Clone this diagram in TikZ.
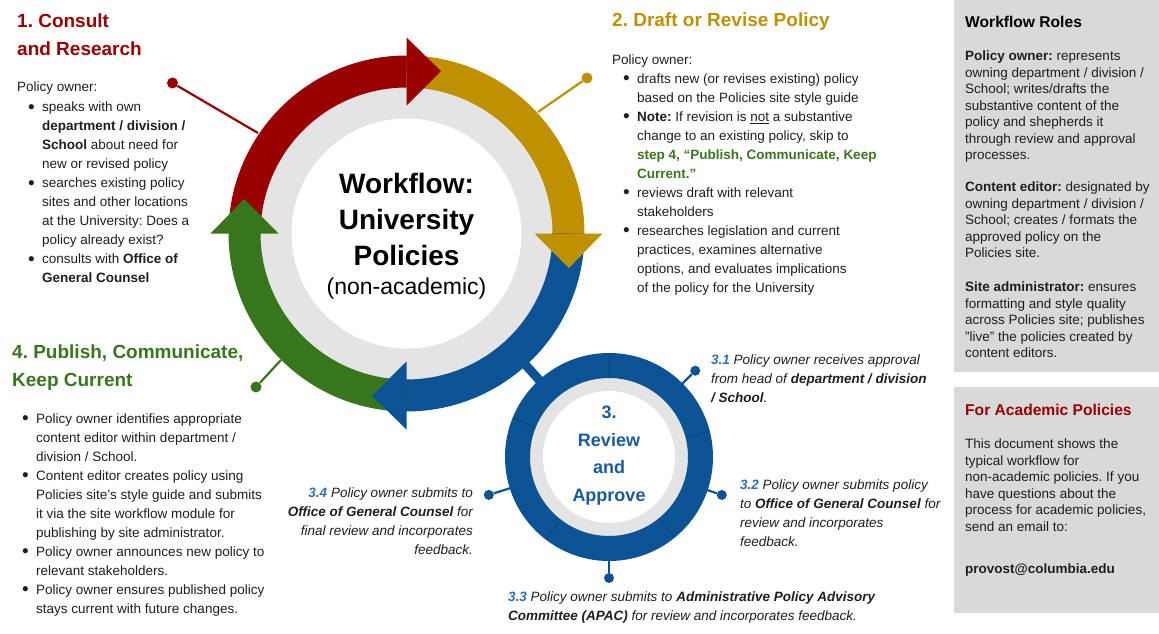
\documentclass[tikz,border=0pt]{standalone}
\usepackage{fontspec}
\setmainfont{Liberation Sans}
\usetikzlibrary{calc}
\frenchspacing
\definecolor{cred}{HTML}{990000}
\definecolor{cgold}{HTML}{BF9000}
\definecolor{cblue}{HTML}{0B5394}
\definecolor{cgreen}{HTML}{38761D}
\definecolor{ringgray}{HTML}{E4E4E4}
\definecolor{panelgray}{HTML}{D9D9D9}
\definecolor{txt}{HTML}{1E1E1E}
\definecolor{tblue}{HTML}{1A5A9E}
\definecolor{lblue}{HTML}{2E6DB4}
\definecolor{cdiv}{HTML}{08427A}
\newcommand{\bl}{\llap{\raisebox{-1.6pt}{\fontsize{19}{19}\selectfont\textbullet}\hspace{7.5pt}}}
\begin{document}
\begin{tikzpicture}[x=1pt,y=-1pt,
  body/.style={anchor=north west, inner sep=0pt, align=left, text=txt, font=\fontsize{13.5}{19}\selectfont},
  body1/.style={anchor=base west, inner sep=0pt, text=txt, font=\fontsize{13.5}{19}\selectfont},
  ital/.style={inner sep=0pt, text=txt, font=\fontsize{13.5}{19}\selectfont\itshape},
  panel/.style={anchor=north west, inner sep=0pt, align=left, text=txt, font=\fontsize{13.5}{16.5}\selectfont},
  ptitle/.style={anchor=base west, inner sep=0pt, text=black, font=\fontsize{15.6}{19}\selectfont\bfseries},
  head/.style={anchor=north west, inner sep=0pt, align=left, font=\fontsize{19}{28}\selectfont\bfseries},
  dot/.style={circle, fill=#1, inner sep=0pt, minimum size=11pt},
  sdot/.style={circle, fill=#1, inner sep=0pt, minimum size=10pt}
]
\useasboundingbox (0,0) rectangle (1159,634);

% ---------- right panels ----------
\fill[panelgray] (954,0) rectangle (1159,372);
\fill[panelgray] (954,387) rectangle (1159,613);

% ---------- centres ----------
\coordinate (C) at (406.5,233.5);
\coordinate (S) at (609,457);
\coordinate (barA) at ($(C)!172pt!(S)$);
\coordinate (barB) at ($(S)!98pt!(C)$);
\draw[cblue, line width=9pt] (barA) -- (barB);

% ---------- connectors of the big ring ----------
\node[dot=cred] (d1) at (172.5,83) {};
\coordinate (r1) at (258,133);
\draw[cred, line width=2.2pt] (d1) -- (r1);
\node[dot=cgold] (d2) at (587,78) {};
\coordinate (r2) at (538,112);
\draw[cgold, line width=2.2pt] (d2) -- (r2);
\node[dot=cgreen] (d4) at (256,387) {};
\coordinate (r4) at (281,360);
\draw[cgreen, line width=2.2pt] (d4) -- (r4);

% ---------- big ring ----------
\begin{scope}[shift={(C)}, yscale=-1]
  \fill[ringgray] (0,0) circle (150);
  \fill[white] (0,0) circle (115);
  \draw[cred,   line width=32pt] (180:162) arc (180:88:162);
  \draw[cgold,  line width=32pt] (90:162) arc (90:-2:162);
  \draw[cblue,  line width=32pt] (0:162) arc (0:-92:162);
  \draw[cgreen, line width=32pt] (-90:162) arc (-90:-182:162);
  \fill[cred]   (90:128) -- (90:196) -- (78:166) -- cycle;
  \fill[cgold]  (0:128) -- (0:196) -- (-12:166) -- cycle;
  \fill[cblue]  (-90:128) -- (-90:196) -- (-102:166) -- cycle;
  \fill[cgreen] (180:128) -- (180:196) -- (168:166) -- cycle;
\end{scope}

% ---------- small ring ----------
\begin{scope}[shift={(S)}, yscale=-1]
  \coordinate (r31) at (45:103);
  \coordinate (r32) at (-18.6:103);
  \coordinate (r33) at (-90:103);
  \coordinate (r34) at (197.5:103);
  \node[sdot=cblue] (d31) at (45:122) {};
  \node[sdot=cblue] (d32) at (-18.6:119) {};
  \node[sdot=cblue] (d33) at (-90:121) {};
  \node[sdot=cblue] (d34) at (197.5:126) {};
  \draw[cblue, line width=2.2pt] (r31) -- (d31);
  \draw[cblue, line width=2.2pt] (r32) -- (d32);
  \draw[cblue, line width=2.2pt] (r33) -- (d33);
  \draw[cblue, line width=2.2pt] (r34) -- (d34);
  \fill[ringgray] (0,0) circle (82);
  \fill[white] (0,0) circle (66);
  \draw[cblue, line width=25pt] (0,0) circle (91.5);
  \foreach \a in {90,158,14.5,-51,-127.5}
    \draw[cdiv, line width=0.7pt] (\a:79.5) -- (\a:103.5);
\end{scope}

% ---------- centre texts ----------
\node[anchor=north, align=center, inner sep=0pt, text=black,
      font=\fontsize{28}{36}\selectfont\bfseries] (ctitle) at (406.5,167.8)
      {\strut Workflow:\\University\\Policies};
\node[anchor=base, inner sep=0pt, text=black, font=\fontsize{23}{28}\selectfont]
      (csub) at (406.5,294) {(non-academic)};
\node[anchor=north, align=center, inner sep=0pt, text=tblue,
      font=\fontsize{18}{27.5}\selectfont\bfseries] (rtitle) at (609,399.25)
      {\strut 3.\\Review\\and\\Approve};

% ---------- section 1 ----------
\node[head, text=cred] (h1) at (17,7.4) {\strut 1. Consult\\and Research};
\node[body1] (p1o) at (17,92) {Policy owner:};
\node[body] (l1) at (42,98.2) {\strut\bl speaks with own\\
\textbf{department / division /}\\
\textbf{School} about need for\\
new or revised policy\\
\bl searches existing policy\\
sites and other locations\\
at the University: Does a\\
policy already exist?\\
\bl consults with \textbf{Office of}\\
\textbf{General Counsel}};

% ---------- section 2 ----------
\node[ptitle, text=cgold, font=\fontsize{19}{28}\selectfont\bfseries] (h2) at (612,27) {2. Draft or Revise Policy};
\node[body1] (p2o) at (612,64.5) {Policy owner:};
\node[body] (l2) at (637,69.7) {\strut\bl drafts new (or revises existing) policy\\
based on the Policies site style guide\\
\bl \textbf{Note:} If revision is \underline{not} a substantive\\
change to an existing policy, skip to\\
\textcolor{cgreen}{\textbf{step 4, “Publish, Communicate, Keep}}\\
\textcolor{cgreen}{\textbf{Current.”}}\\
\bl reviews draft with relevant\\
stakeholders\\
\bl researches legislation and current\\
practices, examines alternative\\
options, and evaluates implications\\
of the policy for the University};

% ---------- section 4 ----------
\node[head, text=cgreen] (h4) at (12,338.9) {\strut 4. Publish, Communicate,\\Keep Current};
\node[body] (l4) at (36,409.7) {\strut\bl Policy owner identifies appropriate\\
content editor within department /\\
division / School.\\
\bl Content editor creates policy using\\
Policies site’s style guide and submits\\
it via the site workflow module for\\
publishing by site administrator.\\
\bl Policy owner announces new policy to\\
relevant stakeholders.\\
\bl Policy owner ensures published policy\\
stays current with future changes.};

% ---------- step 3 texts ----------
\node[ital, anchor=north west, align=left] (t31) at (711,351.2)
  {\strut{\bfseries\color{lblue}3.1} Policy owner receives approval\\
   from head of \textbf{department / division}\\
   \textbf{/ School}.};
\node[ital, anchor=north west, align=left] (t32) at (740,476.2)
  {\strut{\bfseries\color{lblue}3.2} Policy owner submits policy\\
   to \textbf{Office of General Counsel} for\\
   review and incorporates\\
   feedback.};
\node[ital, anchor=north west, align=left] (t33) at (508,587.7)
  {\strut{\bfseries\color{lblue}3.3} Policy owner submits to \textbf{Administrative Policy Advisory}\\
   \textbf{Committee (APAC)} for review and incorporates feedback.};
\node[ital, anchor=north east, align=right] (t34) at (473,483.7)
  {\strut{\bfseries\color{lblue}3.4} Policy owner submits to\\
   \textbf{Office of General Counsel} for\\
   final review and incorporates\\
   feedback.};

% ---------- right panel texts ----------
\node[ptitle] (wr) at (965,27.5) {Workflow Roles};
\node[panel] (q1) at (965,48.95) {\strut\textbf{Policy owner:} represents\\
owning department / division /\\
School; writes/drafts the\\
substantive content of the\\
policy and shepherds it\\
through review and approval\\
processes.};
\node[panel] (q2) at (965,179.95) {\strut\textbf{Content editor:} designated by\\
owning department / division /\\
School; creates / formats the\\
approved policy on the\\
Policies site.};
\node[panel] (q3) at (965,279.95) {\strut\textbf{Site administrator:} ensures\\
formatting and style quality\\
across Policies site; publishes\\
"live" the policies created by\\
content editors.};
\node[ptitle, text=cred] (ap) at (965,415) {For Academic Policies};
\node[panel] (q4) at (965,436.95) {\strut This document shows the\\
typical workflow for\\
non-academic policies. If you\\
have questions about the\\
process for academic policies,\\
send an email to:};
\node[panel] (q5) at (965,563.5) {\textbf{provost@columbia.edu}};
\end{tikzpicture}
\end{document}
